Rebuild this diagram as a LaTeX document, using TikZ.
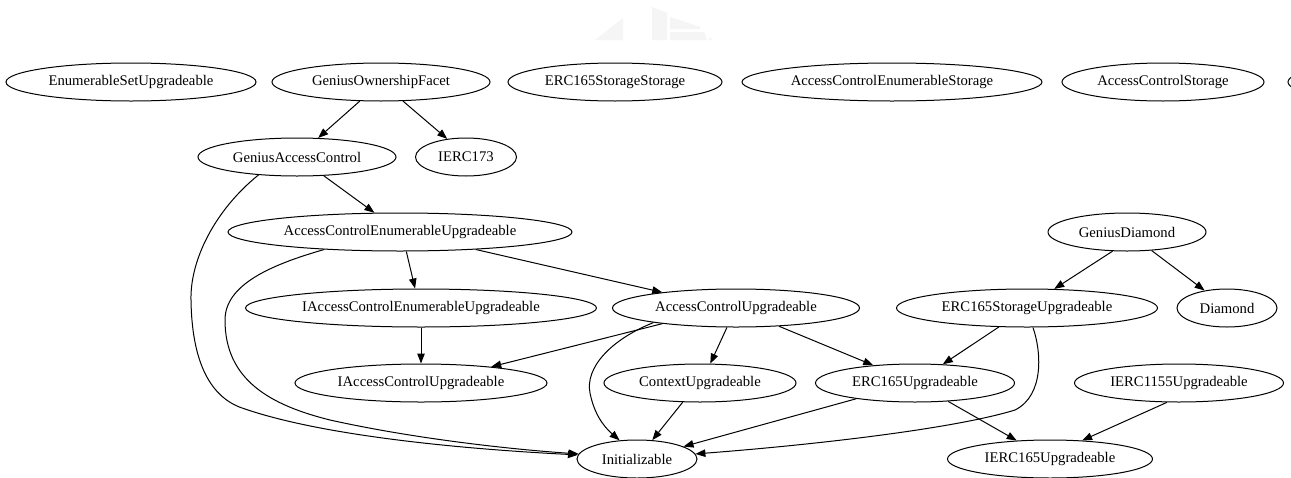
\documentclass[tikz,border=0pt]{standalone}
\usepackage{fontspec}
\setmainfont{Liberation Serif}
\usetikzlibrary{shapes.geometric,arrows.meta}
\begin{document}
\begin{tikzpicture}[x=1pt,y=-1pt,
  nd/.style={draw,ellipse,line width=1pt,minimum height=38pt,inner sep=0pt,font=\fontsize{14.7}{17}\selectfont},
  edge/.style={line width=1pt,-{Triangle[length=10pt,width=7.5pt]}},
  logo/.style={fill=black!4,draw=none}]
\clip (0,0) rectangle (1291,477);
\fill[white] (0,0) rectangle (1291,477);
% faint logo
\fill[logo] (595,40) -- (623,18) -- (623,40) -- cycle;
\fill[logo] (652,7) -- (667,13) -- (667,40) -- (652,40) -- cycle;
\fill[logo] (670,17) -- (700,27) -- (700,29) -- (670,29) -- cycle;
\fill[logo] (670,32) -- (704,32) -- (707,40) -- (670,40) -- cycle;
\fill[logo] (709,37) -- (712,40) -- (709,40) -- cycle;
% row 1
\node[nd,minimum width=250pt] (ESU) at (131,82) {EnumerableSetUpgradeable};
\node[nd,minimum width=218pt] (GOF) at (381,82) {GeniusOwnershipFacet};
\node[nd,minimum width=214pt] (ESS) at (615,82) {ERC165StorageStorage};
\node[nd,minimum width=300pt] (ACES) at (892,82) {AccessControlEnumerableStorage};
\node[nd,minimum width=202pt] (ACS) at (1163,82) {AccessControlStorage};
\node[nd,minimum width=200pt] (CUT) at (1388,82) {};
% row 2
\node[nd,minimum width=198pt] (GAC) at (297,157) {GeniusAccessControl};
\node[nd,minimum width=101pt] (I173) at (466,157) {IERC173};
% row 3
\node[nd,minimum width=344pt] (ACEU) at (400,232) {AccessControlEnumerableUpgradeable};
\node[nd,minimum width=158pt] (GD) at (1127,232) {GeniusDiamond};
% row 4
\node[nd,minimum width=351pt] (IACEU) at (421,308) {IAccessControlEnumerableUpgradeable};
\node[nd,minimum width=247pt] (ACU) at (736,308) {AccessControlUpgradeable};
\node[nd,minimum width=261pt] (ESTU) at (1027,308) {ERC165StorageUpgradeable};
\node[nd,minimum width=100pt] (DIA) at (1227,308) {Diamond};
% row 5
\node[nd,minimum width=252pt] (IACU) at (421,383) {IAccessControlUpgradeable};
\node[nd,minimum width=192pt] (CU) at (700,383) {ContextUpgradeable};
\node[nd,minimum width=199pt] (EU) at (915,383) {ERC165Upgradeable};
\node[nd,minimum width=209pt] (I1155) at (1179,383) {IERC1155Upgradeable};
% row 6
\node[nd,minimum width=120pt] (INIT) at (637,459) {Initializable};
\node[nd,minimum width=205pt] (I165) at (1050,459) {IERC165Upgradeable};
% edges
\draw[edge] (GOF.222) -- (GAC.42);
\draw[edge] (GOF.-41) -- (I173.136);
\draw[edge] (GAC.-35) -- (ACEU.143);
\draw[edge] (GAC.205) .. controls (215,210) and (190,260) .. (191,300)
  .. controls (192,370) and (215,400) .. (245,409)
  .. controls (330,438) and (480,450) .. (INIT.176);
\draw[edge] (ACEU.193) .. controls (270,265) and (225,285) .. (225,320)
  .. controls (225,380) and (270,405) .. (330,420)
  .. controls (420,440) and (520,450) .. (INIT.175);
\draw[edge] (ACEU.-72) -- (IACEU.107);
\draw[edge] (ACEU.-13) -- (ACU.168);
\draw[edge] (IACEU.south) -- (IACU.north);
\draw[edge] (ACU.192) -- (IACU.13);
\draw[edge] (ACU.190) .. controls (610,340) and (585,368) .. (590,393)
  .. controls (594,413) and (603,426) .. (INIT.133);
\draw[edge] (ACU.245) -- (CU.62);
\draw[edge] (ACU.-23) -- (EU.157);
\draw[edge] (CU.228) -- (INIT.51);
\draw[edge] (EU.195) -- (INIT.15);
\draw[edge] (ESTU.214) -- (EU.34);
\draw[edge] (ESTU.287) .. controls (1041,350) and (1045,395) .. (1015,410)
  .. controls (950,430) and (800,446) .. (INIT.5);
\draw[edge] (EU.-29) -- (I165.151);
\draw[edge] (I1155.238) -- (I165.30);
\draw[edge] (GD.233) -- (ESTU.35);
\draw[edge] (GD.-37) -- (DIA.142);
\end{tikzpicture}
\end{document}
